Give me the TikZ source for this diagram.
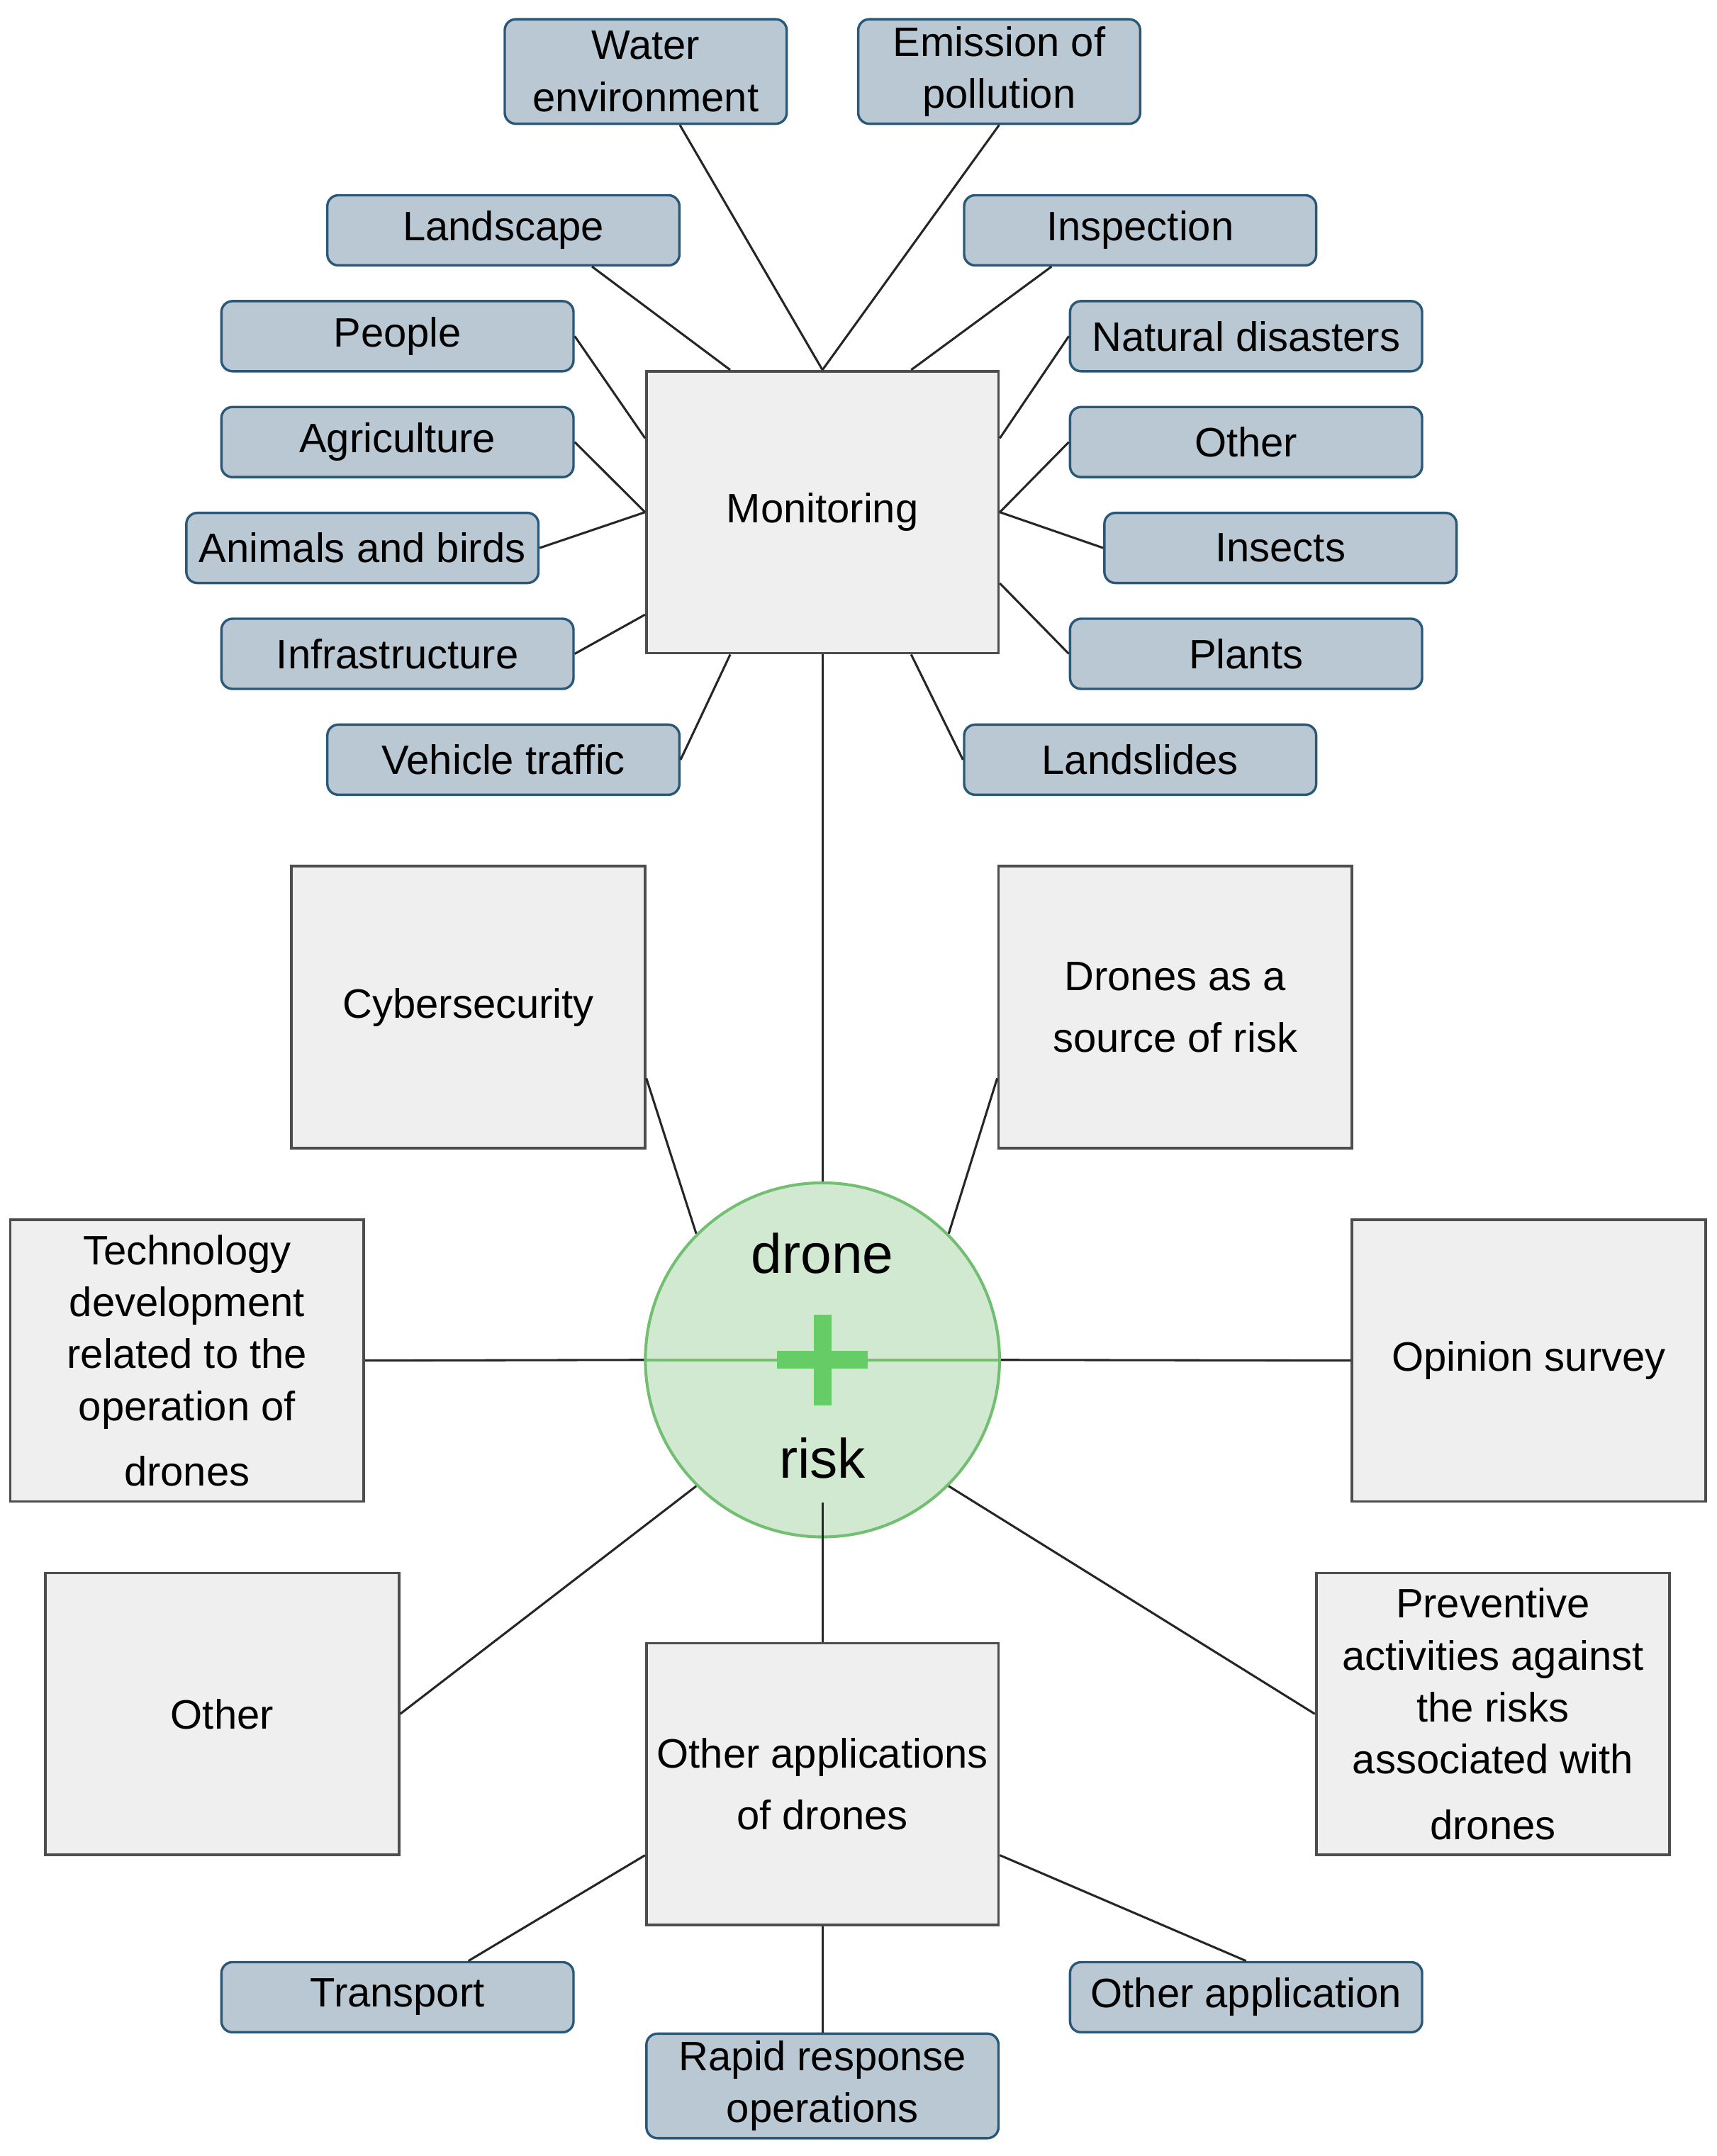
\documentclass[tikz,border=0pt]{standalone}
\usepackage{fontspec}
\setmainfont{Liberation Sans}
\usepackage{tikz}
\usetikzlibrary{calc}

\definecolor{leaffill}{HTML}{BAC8D3}
\definecolor{leafline}{HTML}{2A5878}
\definecolor{topicfill}{HTML}{EFEFEF}
\definecolor{topicline}{HTML}{4D4D4D}
\definecolor{hubfill}{HTML}{D2E9D1}
\definecolor{hubline}{HTML}{72BF72}
\definecolor{plusgreen}{HTML}{66CC66}

\tikzset{
    leaf/.style={draw=leafline, fill=leaffill, line width=1pt, rounded corners=0.16cm,
        minimum width=5.12cm, minimum height=1.02cm, inner sep=1pt, align=center,
        font=\fontsize{17}{21.5}\selectfont},
    topic/.style={draw=topicline, fill=topicfill, line width=1.1pt,
        minimum width=5.14cm, minimum height=4.1cm, inner sep=1pt, align=center,
        font=\fontsize{17}{21.5}\selectfont},
    link/.style={line width=0.9pt, draw=black!85}
}

\begin{document}
\begin{tikzpicture}[x=0.2mm, y=-0.2mm]
    \useasboundingbox (0,0) rectangle (1248,1568);

    % Monitoring and its leaves
    \node[topic, minimum width=5.12cm] (mon) at (598,372.5) {Monitoring};
    \node[leaf, minimum width=4.1cm, minimum height=1.52cm] (water) at (469.5,52) {Water\\environment};
    \node[leaf, minimum width=4.1cm, minimum height=1.52cm] (emis) at (726.5,52) {Emission of\\pollution};
    \node[leaf] (land) at (366,167.5) {Landscape};
    \node[leaf] (insp) at (829,167.5) {Inspection};
    \node[leaf] (people) at (289,244.5) {People};
    \node[leaf] (natdis) at (906,244.5) {Natural disasters};
    \node[leaf] (agri) at (289,321.5) {Agriculture};
    \node[leaf] (othmon) at (906,321.5) {Other};
    \node[leaf] (animals) at (263.5,398.5) {Animals and birds};
    \node[leaf] (insects) at (931,398.5) {Insects};
    \node[leaf] (infra) at (289,475.5) {Infrastructure};
    \node[leaf] (plants) at (906,475.5) {Plants};
    \node[leaf] (vehicle) at (366,552.5) {Vehicle traffic};
    \node[leaf] (landsl) at (829,552.5) {Landslides};

    \draw[link] ($(water.south west)!0.62!(water.south east)$) -- (mon.north);
    \draw[link] (emis.south) -- (mon.north);
    \draw[link] ($(land.south west)!0.75!(land.south east)$) -- ($(mon.north west)!0.24!(mon.north east)$);
    \draw[link] ($(insp.south west)!0.25!(insp.south east)$) -- ($(mon.north west)!0.75!(mon.north east)$);
    \draw[link] (people.east) -- ($(mon.north west)!0.24!(mon.south west)$);
    \draw[link] (agri.east) -- (mon.west);
    \draw[link] (animals.east) -- (mon.west);
    \draw[link] (infra.east) -- ($(mon.north west)!0.86!(mon.south west)$);
    \draw[link] (natdis.west) -- ($(mon.north east)!0.24!(mon.south east)$);
    \draw[link] (othmon.west) -- (mon.east);
    \draw[link] (insects.west) -- (mon.east);
    \draw[link] (plants.west) -- ($(mon.north east)!0.75!(mon.south east)$);
    \draw[link] (vehicle.east) -- ($(mon.south west)!0.24!(mon.south east)$);
    \draw[link] (landsl.west) -- ($(mon.south west)!0.75!(mon.south east)$);

    % Topics round the hub
    \node[topic] (cyber) at (340.5,732.5) {Cybersecurity};
    \node[topic] (dsrc) at (854.5,732.5) {Drones as a\\[4pt]source of risk};
    \node[topic] (tech) at (136,989.5) {Technology\\development\\related to the\\operation of\\[0.2cm]drones};
    \node[topic] (opin) at (1111.5,989.5) {Opinion survey};
    \node[topic] (other) at (161.5,1246.5) {Other};
    \node[topic] (prev) at (1085.5,1246.5) {Preventive\\activities against\\the risks\\associated with\\[0.2cm]drones};
    \node[topic, minimum width=5.12cm] (oapp) at (598,1297.5) {Other applications\\[4pt]of drones};

    % Hub: drone + risk
    \node[circle, draw=hubline, fill=hubfill, line width=1.2pt, minimum size=5.15cm,
        inner sep=0pt] (hub) at (598,989) {};
    \draw[hubline, line width=1.2pt] (hub.west) -- (hub.east);
    \draw[plusgreen, line width=0.26cm] (565,989) -- (631,989);
    \draw[plusgreen, line width=0.26cm] (598,956) -- (598,1022);
    \node[font=\fontsize{23}{27}\selectfont, anchor=base] (drone) at (598,926) {drone};
    \node[font=\fontsize{23}{27}\selectfont, anchor=base] (risk) at (598,1075) {risk};

    \draw[link] (mon.south) -- (hub.north);
    \draw[link] ($(cyber.north east)!0.75!(cyber.south east)$) -- (hub.135);
    \draw[link] ($(dsrc.north west)!0.75!(dsrc.south west)$) -- (hub.45);
    \draw[link] (tech.east) -- (hub.west);
    \draw[link] (opin.west) -- (hub.east);
    \draw[link] (other.east) -- (hub.225);
    \draw[link] (prev.west) -- (hub.315);
    \draw[link] ($(hub.south)+(0,-26)$) -- (oapp.north);

    % Other applications and its leaves
    \node[leaf] (transp) at (289,1452.5) {Transport};
    \node[leaf] (othapp) at (906,1452.5) {Other application};
    \node[leaf, minimum height=1.52cm] (rapid) at (598,1517) {Rapid response\\operations};

    \draw[link] ($(oapp.north west)!0.75!(oapp.south west)$) -- ($(transp.north west)!0.7!(transp.north east)$);
    \draw[link] ($(oapp.north east)!0.75!(oapp.south east)$) -- (othapp.north);
    \draw[link] (oapp.south) -- (rapid.north);
\end{tikzpicture}
\end{document}
